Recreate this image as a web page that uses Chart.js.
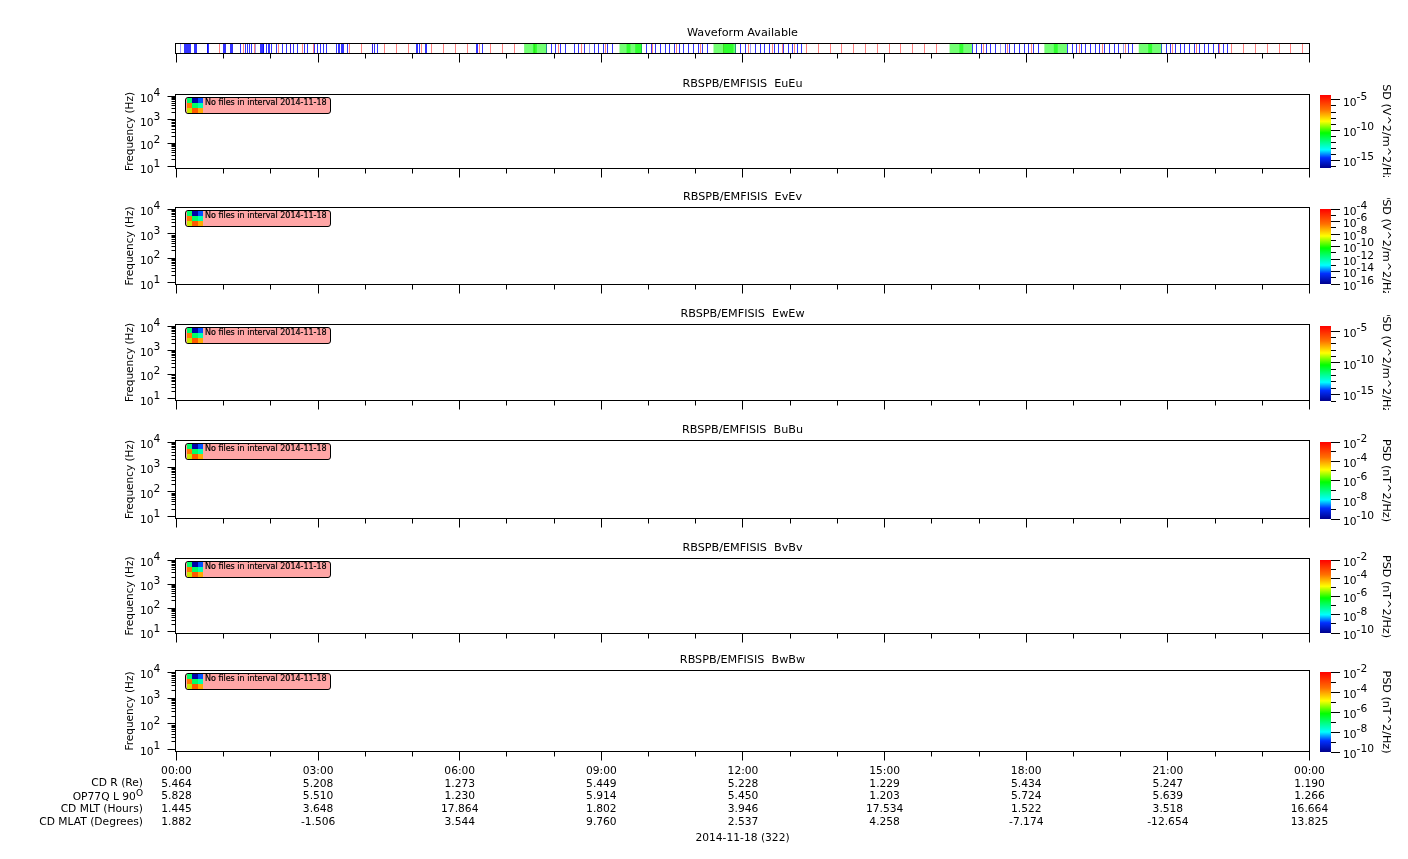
<!DOCTYPE html>
<html>
<head>
<meta charset="utf-8">
<title>RBSPB EMFISIS survey</title>
<script src="https://cdn.jsdelivr.net/npm/chart.js@4/dist/chart.umd.min.js"></script>
<style>
  body { margin: 0; background: #fff; width: 1408px; height: 859px; overflow: hidden; position: relative; }
  canvas { position: absolute; }
  .rowLabel { position: absolute; right: 1265px; white-space: nowrap; font: 10.7px/13px "DejaVu Sans"; color: #000; }
  .rowLabel span { position: relative; top: -4px; }
  .noFiles { position: absolute; left: 185px; width: 144px; height: 15px; background: #ffa6a6; border: 1px solid #000; border-radius: 3px; }
  .noFiles i { position: absolute; left: 1px; top: 0; width: 16px; height: 15px; display: grid; grid-template-columns: repeat(3, 1fr); grid-template-rows: repeat(3, 1fr); }
  .noFiles b { position: absolute; left: 19px; top: 0; font: 8px/10px "DejaVu Sans"; color: #000; white-space: nowrap; -webkit-text-stroke: 0.2px #000; }
</style>
</head>
<body>
<script>
// times are minutes of the day
const blueTicks = [10, 11.2, 12.5, 13.8, 15, 16.3, 18, 22.7, 24, 25.2, 38.8, 40, 41.3, 60, 61.2, 62.9, 68.9, 70.1, 71.8,
  81.6, 87.5, 90.1, 92.6, 95.1, 106.2, 107.4, 108.7, 110, 111.2, 115, 116.3, 117.6, 120.6, 127.4, 134.1, 139.6, 145.2,
  149, 153.2, 162.1, 166.3, 174.8, 179, 182.4, 186.7, 190.1, 203.6, 205.3, 207, 210, 211.3, 212.5, 216.8, 249, 252, 255,
  305.4, 306.6, 309.2, 316.8, 318, 381.6, 382.9, 388.8, 470.6, 477, 482, 488, 494.8, 505.4, 510.5, 518.1, 530.8, 536.3,
  542.7, 548.2, 554.1, 591.4, 596.9, 603.3, 609.2, 615.2, 621.1, 626.6, 633, 638.9, 644.8, 650.7, 657.1, 663, 668.5,
  674.9, 711, 717.3, 723.6, 735.9, 741.9, 747.8, 753.7, 759.7, 765.6, 771.5, 777.5, 783.4, 789.8, 794.4, 1011.1, 1017.4,
  1023, 1028.9, 1034.8, 1041.2, 1053, 1059, 1065.3, 1071.3, 1077.2, 1083.1, 1089.1, 1095, 1131.9, 1138.2, 1143.7, 1149.7,
  1155.6, 1161.5, 1167.5, 1173.4, 1179.4, 1185.3, 1191.6, 1197.6, 1209.4, 1215.4, 1251.8, 1257.7, 1263.7, 1269.6, 1275.5,
  1281.5, 1287.8, 1294.2, 1299.7, 1306.1, 1312, 1317.9, 1323.9, 1330.2, 1336.1];
const paleBlueTicks = [4.9, 101, 524.5, 729.2, 1047.1, 1203.5];
const redTicks = [54.5, 85, 99, 129.5, 145.2, 160.4, 174, 219.3, 235.4, 249, 264.2, 279.9, 295.2, 310.9, 324.4, 339.3, 354.9,
  370.2, 385, 399.4, 414.7, 430, 454.5, 485.5, 514.3, 544.8, 605, 635.9, 666.4, 695, 727, 757.1, 770.7, 785.5, 801.2, 816,
  831.7, 845.7, 860.5, 875.8, 891, 906.3, 920.7, 936, 951, 966.3, 1025.9, 1055.6, 1086.1, 1147.1, 1176.4, 1206.5, 1266.2,
  1296.3, 1326, 1341.2, 1356.5, 1371.7, 1387, 1401.4, 1416.2, 1431.5];
const greenBlocks = [[441.8, 470.6], [563, 591.4], [682.5, 711], [982.5, 1011.1], [1103, 1131.9], [1223, 1251.8]];
const greenOverlaps = [[453, 458], [572, 577], [583, 591.4], [695, 708], [995, 1000], [1115, 1120], [1235, 1240]];

const panelTitles = ['RBSPB/EMFISIS  EuEu', 'RBSPB/EMFISIS  EvEv', 'RBSPB/EMFISIS  EwEw', 'RBSPB/EMFISIS  BuBu', 'RBSPB/EMFISIS  BvBv', 'RBSPB/EMFISIS  BwBw'];
const cbarTitles = ['PSD (V^2/m^2/Hz)', 'PSD (V^2/m^2/Hz)', 'PSD (V^2/m^2/Hz)', 'PSD (nT^2/Hz)', 'PSD (nT^2/Hz)', 'PSD (nT^2/Hz)'];
const cbarRanges = [[-16.2, -4.2], [-16, -4], [-16, -4.2], [-10, -2], [-10, -2], [-10, -2]];
const cbarMajors = [[-5, -10, -15], [-4, -6, -8, -10, -12, -14, -16], [-5, -10, -15], [-2, -4, -6, -8, -10], [-2, -4, -6, -8, -10], [-2, -4, -6, -8, -10]];

const freqRange = [8.5, 12000];
const freqMajors = [10, 100, 1000, 10000];
const freqTicks = [10, 20, 30, 40, 50, 60, 70, 80, 90, 100, 200, 300, 400, 500, 600, 700, 800, 900, 1000, 2000, 3000, 4000, 5000, 6000, 7000, 8000, 9000, 10000];

const hourTicks = [0, 60, 120, 180, 240, 300, 360, 420, 480, 540, 600, 660, 720, 780, 840, 900, 960, 1020, 1080, 1140, 1200, 1260, 1320, 1380, 1440];
const timeLabels = ['00:00', '03:00', '06:00', '09:00', '12:00', '15:00', '18:00', '21:00', '00:00'];
const cdR = ['5.464', '5.208', '1.273', '5.449', '5.228', '1.229', '5.434', '5.247', '1.190'];
const op77qL = ['5.828', '5.510', '1.230', '5.914', '5.450', '1.203', '5.724', '5.639', '1.266'];
const cdMlt = ['1.445', '3.648', '17.864', '1.802', '3.946', '17.534', '1.522', '3.518', '16.664'];
const cdMlat = ['1.882', '-1.506', '3.544', '9.760', '2.537', '4.258', '-7.174', '-12.654', '13.825'];
const rowLabels = ['CD R (Re)', 'OP77Q L 90', 'CD MLT (Hours)', 'CD MLAT (Degrees)'];
const dateLabel = '2014-11-18 (322)';
const noFilesText = 'No files in interval 2014-11-18';
const iconColors = ['#00ff66', '#0000a8', '#0050ff', '#ff7800', '#00ff64', '#00ffb0', '#c8e600', '#ff5a00', '#ffaa00'];

// pixel rows of the frames and colour bars
const panelFrames = [[94, 168], [207, 284], [324, 400], [440, 518], [558, 633], [670, 751]];
const cbarRows = [[95, 168], [209, 284], [326, 401], [442, 519], [560, 633], [672, 752]];
const rowTops = [776, 790, 802, 815];

const FONT = { family: 'DejaVu Sans', size: 10.7, lineHeight: 1.2 };
const TITLE_FONT = { family: 'DejaVu Sans', size: 11.2, lineHeight: 1.2, weight: 'normal' };
const xMin = -1.27, xMax = 1440;

Chart.defaults.animation = false;
Chart.defaults.responsive = false;
Chart.defaults.color = '#000';
Chart.defaults.font.family = 'DejaVu Sans';
Chart.defaults.plugins.legend.display = false;
Chart.defaults.plugins.tooltip.enabled = false;

// frame, tick marks and the raised exponents of the axis labels
const axisMarks = {
  id: 'axisMarks',
  afterDatasetsUpdate(chart) {
    chart.data.datasets.forEach((d, i) => {
      if (d.snap) chart.getDatasetMeta(i).data.forEach(p => { p.x = Math.floor(p.x) + 0.5; });
    });
  },
  afterDraw(chart, args, opts) {
    const ctx = chart.ctx, area = chart.chartArea;
    ctx.save();
    ctx.strokeStyle = '#000';
    ctx.fillStyle = '#000';
    ctx.lineWidth = 1;
    if (opts.frame) ctx.strokeRect(area.left, area.top, area.right - area.left, area.bottom - area.top);
    ctx.beginPath();
    Object.values(chart.scales).forEach(scale => {
      if (!scale.options.display) return;
      scale.ticks.forEach((t, i) => {
        const p = Math.floor(scale.getPixelForTick(i)) + 0.5;
        if (scale.axis === 'x') {
          ctx.moveTo(p, area.bottom);
          ctx.lineTo(p, area.bottom + (t.major ? 9 : 5));
        } else if (scale.position === 'left') {
          ctx.moveTo(area.left, p);
          ctx.lineTo(area.left - (t.major ? 8 : 4), p);
        } else {
          ctx.moveTo(area.right, p);
          ctx.lineTo(area.right + (t.major ? 9 : 5), p);
        }
      });
    });
    ctx.stroke();
    ctx.font = FONT.size + 'px "DejaVu Sans"';
    ctx.textBaseline = 'middle';
    ctx.textAlign = 'left';
    Object.values(chart.scales).forEach(scale => {
      if (scale.axis !== 'y' || !scale.options.display) return;
      const pad = scale.options.ticks.padding;
      scale.ticks.forEach((t, i) => {
        if (!t.major) return;
        const p = scale.getPixelForTick(i) - 3;
        if (scale.position === 'left') {
          ctx.fillText(String(Math.round(Math.log10(t.value))), area.left - pad, p);
        } else {
          ctx.fillText(String(t.value), area.right + pad + ctx.measureText('10').width, p);
        }
      });
    });
    ctx.restore();
  }
};
Chart.register(axisMarks);

function addCanvas(left, top, width, height) {
  const c = document.createElement('canvas');
  c.width = width;
  c.height = height;
  c.style.left = left + 'px';
  c.style.top = top + 'px';
  document.body.appendChild(c);
  return c;
}

function xScale(bottomPanel) {
  const opts = {
    type: 'linear',
    min: xMin,
    max: xMax,
    grid: { display: false, drawTicks: false },
    border: { display: false },
    ticks: { display: false, autoSkip: false },
    afterBuildTicks: s => { s.ticks = hourTicks.map(v => ({ value: v, major: v % 180 === 0 })); },
    afterFit: s => { s.height = bottomPanel ? 95 : 0; s.paddingLeft = 0; s.paddingRight = 0; }
  };
  if (bottomPanel) {
    opts.ticks = {
      display: true, autoSkip: false, maxRotation: 0, minRotation: 0, padding: 13,
      font: { family: 'DejaVu Sans', size: 10.7, lineHeight: 1.2 },
      callback: v => {
        if (v % 180 !== 0) return '';
        const i = v / 180;
        return [timeLabels[i], cdR[i], op77qL[i], cdMlt[i], cdMlat[i]];
      }
    };
    opts.title = { display: true, text: dateLabel, font: FONT, padding: { top: 0, bottom: 2 } };
  }
  return opts;
}

// panel title lives on a bare top axis so that it centres on the plot, not on the canvas
function titleScale(text, padTop) {
  return {
    type: 'linear',
    axis: 'x',
    position: 'top',
    min: xMin,
    max: xMax,
    grid: { display: false, drawTicks: false },
    border: { display: false },
    ticks: { display: false },
    title: { display: true, text: text, font: TITLE_FONT, padding: { top: padTop, bottom: 0 } },
    afterBuildTicks: s => { s.ticks = []; },
    afterFit: s => { s.height = 20.5; s.paddingLeft = 0; s.paddingRight = 0; }
  };
}

// waveform availability strip
function waveformChart() {
  const line = (ticks, color) => ({
    data: ticks.map(t => ({ x: t, y: 0.5 })),
    pointStyle: 'line', pointRotation: 90, pointRadius: 5, pointBorderWidth: 1,
    pointBorderColor: color, showLine: false, snap: true
  });
  const block = (b, color) => ({
    data: [{ x: b[0], y: 0.5 }, { x: b[1], y: 0.5 }],
    showLine: true, pointRadius: 0, borderWidth: 10, borderColor: color, borderCapStyle: 'butt'
  });
  const datasets = [
    ...greenBlocks.map(b => block(b, 'rgba(0,255,0,0.55)')),
    ...greenOverlaps.map(b => block(b, 'rgba(0,255,0,0.6)')),
    line(blueTicks, 'rgba(0,0,255,0.8)'),
    line(paleBlueTicks, 'rgba(0,0,255,0.4)'),
    line(redTicks, 'rgba(255,0,0,0.5)')
  ];
  new Chart(addCanvas(122, 23, 1208, 41), {
    type: 'scatter',
    data: { datasets: datasets },
    options: {
      layout: { padding: { right: 20.5, bottom: 10.5 } },
      plugins: { axisMarks: { frame: true } },
      scales: {
        xTop: titleScale('Waveform Available', 3.6),
        x: xScale(false),
        y: { display: false, min: 0, max: 1, afterFit: s => { s.width = 53.5; } }
      }
    }
  });
}

function spectrumPanel(i) {
  const top = panelFrames[i][0], bottom = panelFrames[i][1], last = i === panelFrames.length - 1;
  const height = bottom - top + (last ? 116 : 31);
  new Chart(addCanvas(122, top - 20, 1208, height), {
    type: 'scatter',
    data: { datasets: [] },
    options: {
      layout: { padding: { right: 20.5, bottom: last ? 0.5 : 10.5 } },
      plugins: { axisMarks: { frame: true } },
      scales: {
        xTop: titleScale(panelTitles[i], 3.3),
        x: xScale(last),
        y: {
          type: 'logarithmic',
          position: 'left',
          min: freqRange[0],
          max: freqRange[1],
          grid: { display: false, drawTicks: false },
          border: { display: false },
          title: { display: true, text: 'Frequency (Hz)', font: { ...FONT, size: 10.5 }, padding: { top: 1.5, bottom: 0 } },
          ticks: {
            autoSkip: false, padding: 22, labelOffset: 3, font: FONT,
            callback: v => freqMajors.includes(v) ? '10' : ''
          },
          afterBuildTicks: s => { s.ticks = freqTicks.map(v => ({ value: v, major: freqMajors.includes(v) })); },
          afterFit: s => { s.width = 53.5; s.paddingTop = 0; s.paddingBottom = 0; }
        }
      }
    }
  });
}

// colours of the spectrogram colour bar, top to bottom
const rainbow = [[0, '#ff0000'], [0.2, '#ff7000'], [0.36, '#ffff00'], [0.52, '#00ff00'], [0.75, '#00ffff'], [0.86, '#0030ff'], [1, '#00008c']];

function colorBar(i) {
  const top = cbarRows[i][0], bottom = cbarRows[i][1];
  const range = cbarRanges[i], majors = cbarMajors[i];
  const cbarTicks = [];
  for (let v = Math.ceil(range[0]); v <= Math.floor(range[1]); v++) cbarTicks.push(v);
  new Chart(addCanvas(1312, top - 11, 82, bottom - top + 20), {
    type: 'bar',
    data: {
      labels: [''],
      datasets: [{
        data: [range],
        barPercentage: 1,
        categoryPercentage: 1,
        backgroundColor: ctx => {
          const area = ctx.chart.chartArea;
          if (!area) return '#000';
          const g = ctx.chart.ctx.createLinearGradient(0, area.top, 0, area.bottom);
          rainbow.forEach(s => g.addColorStop(s[0], s[1]));
          return g;
        }
      }]
    },
    options: {
      layout: { padding: { left: 8, top: 11, bottom: 9 } },
      plugins: { axisMarks: { frame: false } },
      scales: {
        x: { display: false },
        y: {
          position: 'right',
          min: range[0],
          max: range[1],
          grid: { display: false, drawTicks: false },
          border: { display: false },
          title: { display: true, text: cbarTitles[i], font: { ...FONT, size: 11.2 }, padding: { top: 1.5, bottom: 0 } },
          ticks: {
            autoSkip: false, padding: 12, labelOffset: 3, font: FONT,
            callback: v => majors.includes(v) ? '10' : ''
          },
          afterBuildTicks: s => { s.ticks = cbarTicks.map(v => ({ value: v, major: majors.includes(v) })); },
          afterFit: s => { s.width = 63; s.paddingTop = 0; s.paddingBottom = 0; }
        }
      }
    }
  });
}

function addHtml() {
  panelFrames.forEach(f => {
    const box = document.createElement('div');
    box.className = 'noFiles';
    box.style.top = (f[0] + 3) + 'px';
    const icon = document.createElement('i');
    iconColors.forEach(col => {
      const cell = document.createElement('s');
      cell.style.background = col;
      icon.appendChild(cell);
    });
    const txt = document.createElement('b');
    txt.textContent = noFilesText;
    box.appendChild(icon);
    box.appendChild(txt);
    document.body.appendChild(box);
  });
  rowLabels.forEach((label, i) => {
    const row = document.createElement('div');
    row.className = 'rowLabel';
    row.style.top = rowTops[i] + 'px';
    row.textContent = label;
    if (label.endsWith('90')) {
      const deg = document.createElement('span');
      deg.textContent = 'O';
      deg.style.fontSize = '9px';
      row.appendChild(deg);
    }
    document.body.appendChild(row);
  });
}

waveformChart();
panelFrames.forEach((f, i) => {
  spectrumPanel(i);
  colorBar(i);
});
addHtml();
</script>
</body>
</html>
